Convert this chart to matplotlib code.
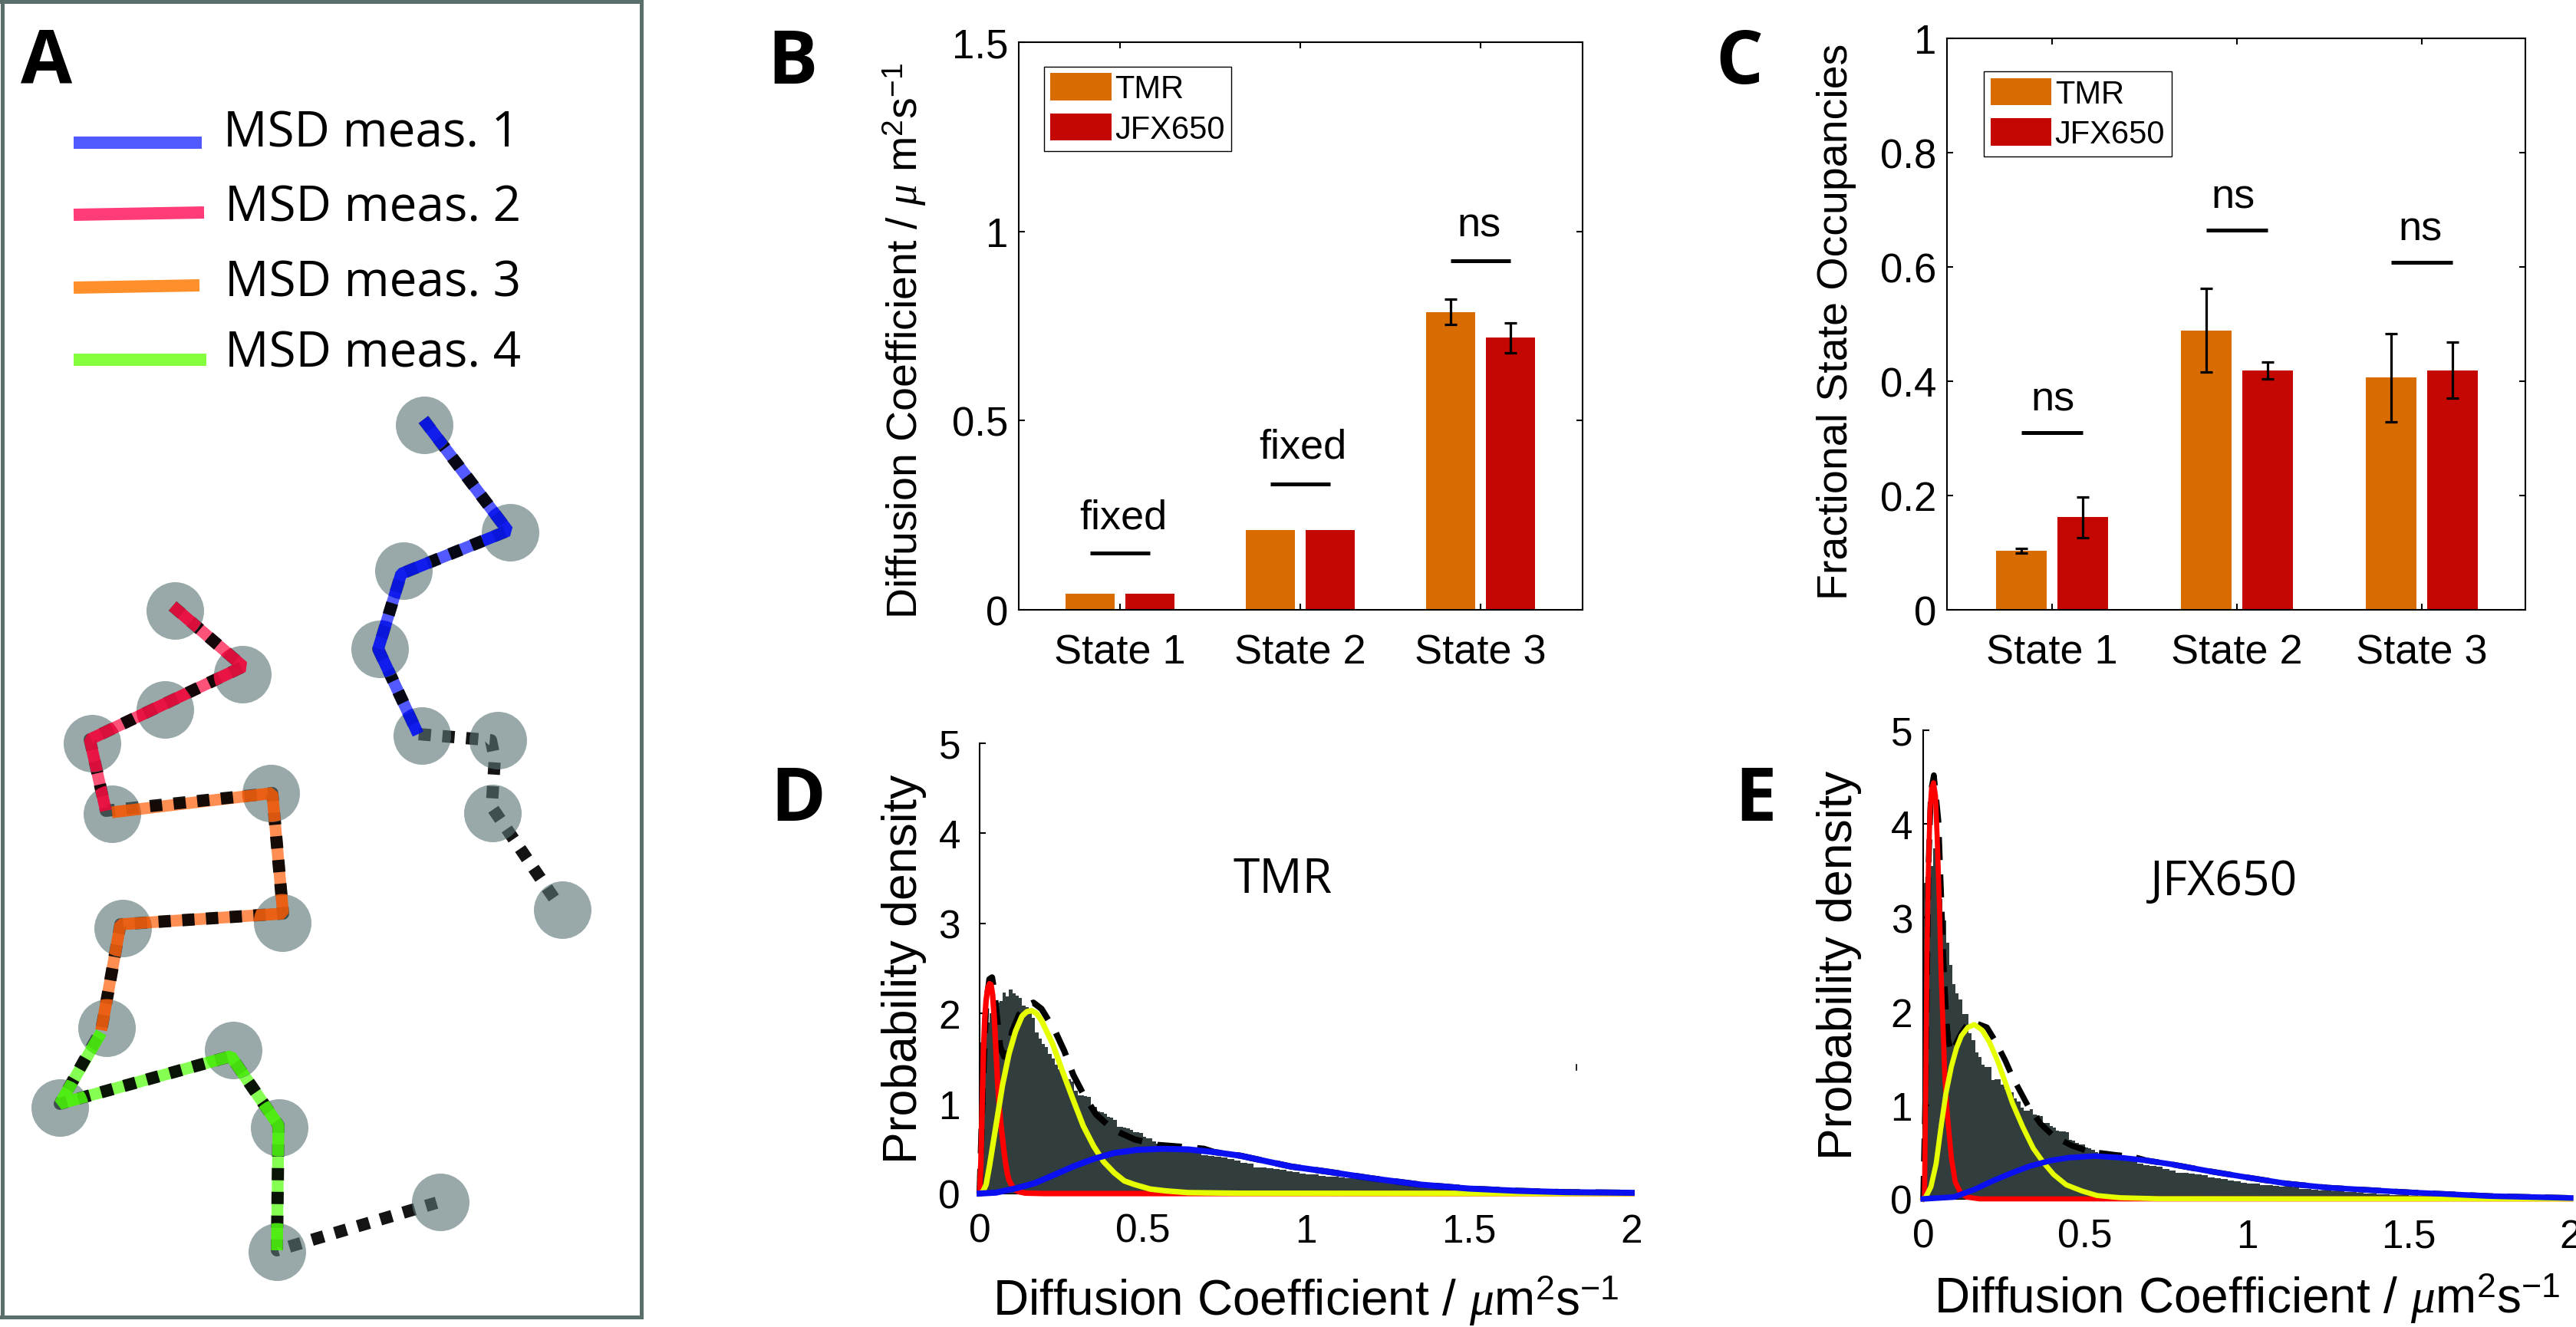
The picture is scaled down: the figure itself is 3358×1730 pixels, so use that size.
from matplotlib import pyplot as plt
from matplotlib.path import Path
import numpy as np

plt.rcParams['font.family'] = ['Liberation Sans', 'DejaVu Sans']
plt.rcParams['mathtext.fontset'] = 'custom'
plt.rcParams['mathtext.rm'] = 'Liberation Sans'
plt.rcParams['mathtext.it'] = 'Liberation Serif:italic'

WIDTH, HEIGHT = 3358, 1731

# panel A, trajectories on the panel's pixel grid
circle_x = [553, 665, 526, 495, 550, 649, 642, 733,
            228, 316, 215, 120, 146, 353, 368, 160, 139, 78, 304, 364, 361, 574]
circle_y = [555, 695, 745, 847, 960, 966, 1061, 1187,
            797, 880, 926, 970, 1062, 1035, 1204, 1211, 1341, 1445, 1370, 1471, 1633, 1568]
track_a_x = [552, 662, 523, 493, 545, 640, 645, 641, 729]
track_a_y = [548, 693, 749, 847, 958, 966, 990, 1053, 1182]
track_b_x = [225, 317, 117, 138, 355, 369, 157, 132, 78, 301, 363, 361, 569]
track_b_y = [791, 870, 965, 1058, 1035, 1192, 1206, 1344, 1440, 1378, 1468, 1631, 1569]
msd_blue_x, msd_blue_y = track_a_x[:5], track_a_y[:5]
msd_red_x, msd_red_y = track_b_x[:4], track_b_y[:4]
msd_orange_x = [146, 355, 369, 157, 132]
msd_orange_y = [1060, 1035, 1192, 1206, 1344]
msd_green_x = [132, 78, 301, 363, 361]
msd_green_y = [1347, 1440, 1378, 1468, 1631]
msd_labels = ["MSD meas. 1", "MSD meas. 2", "MSD meas. 3", "MSD meas. 4"]
msd_legend_x = [[96, 263], [96, 266], [96, 260], [96, 269]]
msd_legend_y = [[187, 187], [281, 278], [376, 373], [470, 470]]
msd_text_x = [291, 293, 293, 293]
msd_text_y = [192, 289, 387, 479]

# panels B and C
states = ["State 1", "State 2", "State 3"]
diff_tmr = [0.042, 0.21, 0.787]
diff_jfx = [0.042, 0.21, 0.719]
diff_tmr_err = [0, 0, 0.033]
diff_jfx_err = [0, 0, 0.04]
diff_notes = ["fixed", "fixed", "ns"]
diff_note_y = [0.216, 0.403, 0.988]
diff_note_x = [1.02, 2.013, 2.99]
diff_line_y = [0.15, 0.333, 0.923]

occ_tmr = [0.104, 0.489, 0.407]
occ_jfx = [0.163, 0.419, 0.419]
occ_tmr_low = [0.099, 0.416, 0.329]
occ_tmr_high = [0.108, 0.562, 0.483]
occ_jfx_low = [0.126, 0.404, 0.370]
occ_jfx_high = [0.197, 0.434, 0.468]
occ_notes = ["ns", "ns", "ns"]
occ_note_y = [0.35, 0.704, 0.648]
occ_note_x = [1.004, 1.98, 2.99]
occ_line_y = [0.31, 0.664, 0.608]

# panel D, 0.01 wide bins up to 0.6 then 0.02 wide bins
hist_edges = np.r_[np.arange(0, 0.6, 0.01), np.arange(0.6, 2.001, 0.02)]
tail_d = [.50, .49, .47, .45, .43, .42, .41, .40, .38, .37, .34, .33, .29, .29, .28, .27, .26, .25,
          .24, .22, .21, .21, .20, .19, .19, .18, .17, .17, .16, .15, .145, .14, .125, .12, .11,
          .105, .095, .09, .085, .08, .07, .065, .06, .055, .05, .045, .04, .04, .035, .03, .03,
          .025, .025, .02, .02, .018, .015, .015, .012, .012, .01, .01, .008, .008, .006, .006,
          .005, .005, .004, .004]
hist_d = [1.68, 1.78, 1.9, 2.0, 2.05, 2.12, 2.14, 2.23, 2.19, 2.27, 2.22, 2.2, 2.17, 2.09, 2.07,
          2.02, 1.95, 1.79, 1.72, 1.66, 1.63, 1.55, 1.5, 1.43, 1.38, 1.33, 1.29, 1.27, 1.24, 1.14,
          1.09, 1.09, 1.08, 1.07, .98, .96, .91, .9, .89, .85, .84, .82, .74, .74, .73, .72, .71,
          .68, .68, .67, .63, .61, .61, .58, .55, .55, .53, .53, .52, .51] + tail_d
red_d_x = [0, .004, .008, .012, .016, .02, .025, .03, .035, .04, .045, .05, .055, .06, .065, .07,
           .075, .08, .085, .09, .1, .11, .12, .14, .2, 2]
red_d_y = [0, .35, 1.0, 1.6, 1.95, 2.15, 2.28, 2.33, 2.32, 2.2, 1.95, 1.6, 1.25, .98, .78, .62,
           .46, .33, .22, .15, .08, .04, .02, .005, 0, 0]
yellow_d_x = [0, .01, .02, .03, .05, .07, .09, .11, .13, .145, .16, .175, .19, .224, .255, .287,
              .318, .35, .38, .413, .444, .475, .523, .57, .64, .8, 2]
yellow_d_y = [0, .02, .1, .3, .75, 1.2, 1.55, 1.8, 1.97, 2.02, 2.03, 2.0, 1.92, 1.66, 1.35, 1.04,
              .75, .525, .355, .23, .14, .10, .05, .03, .01, .003, 0]
blue_d_x = [0, .05, .114, .169, .224, .287, .35, .413, .483, .562, .64, .72, .8, .877, .955,
            1.073, 1.2, 1.35, 1.5, 1.65, 1.8, 2.0]
blue_d_y = [0, .01, .06, .115, .2, .3, .385, .45, .485, .497, .49, .46, .42, .36, .30,
            .24, .17, .10, .055, .03, .015, .008]
total_d_x = [0, .01, .02, .03, .038, .045, .055, .063, .075, .086, .1, .12, .14, .165, .19, .232,
             .26, .287, .32, .357, .409, .476, .546, .617, .688, .72, .8, .877, .955,
             1.073, 1.2, 1.35, 1.5, 1.65, 1.8, 2.0]
total_d_y = [0, 1.2, 2.1, 2.38, 2.4, 2.25, 1.9, 1.63, 1.52, 1.55, 1.8, 1.98, 2.08, 2.12, 2.05,
             1.8, 1.58, 1.32, 1.09, .88, .71, .6, .54, .52, .497, .46, .42, .36, .30,
             .24, .17, .10, .055, .03, .015, .008]

# panel E
tail_e = [.43, .42, .40, .38, .36, .35, .34, .32, .30, .28, .28, .27, .26, .25, .23, .22, .21, .20,
          .19, .17, .16, .16, .15, .15, .14, .13, .13, .12, .11, .11, .10, .09, .09, .08, .08, .07,
          .07, .065, .06, .055, .05, .05, .045, .04, .04, .035, .035, .03, .03, .025, .025, .02,
          .02, .018, .016, .015, .014, .012, .012, .01, .01, .008, .008, .007, .006, .006, .005,
          .005, .004, .004]
hist_e = [3.37, 3.37, 3.55, 3.74, 3.6, 3.2, 2.97, 2.73, 2.5, 2.29, 2.19, 2.13, 1.97, 1.97, 1.77,
          1.69, 1.56, 1.51, 1.43, 1.41, 1.41, 1.27, 1.28, 1.28, 1.22, 1.17, 1.14, 1.14, 1.07, 1.04,
          .97, .94, .94, .96, .9, .89, .88, .81, .81, .78, .76, .73, .72, .72, .71, .63, .62, .6,
          .58, .58, .55, .54, .52, .5, .48, .47, .47, .46, .45, .45] + tail_e
red_e_x = [0, .004, .008, .012, .016, .021, .026, .032, .038, .043, .05, .055, .061, .067, .075,
           .087, .099, .115, .134, .174, 2]
red_e_y = [0, .02, 1.22, 2.68, 3.49, 4.14, 4.38, 4.44, 4.3, 3.88, 3.16, 2.45, 1.87, 1.28, .89,
           .44, .18, .07, .02, 0, 0]
yellow_e_x = [0, .008, .024, .04, .055, .07, .087, .103, .118, .138, .158, .182, .205, .229, .253,
              .276, .308, .34, .371, .403, .442, .49, .537, .608, .727, 2]
yellow_e_y = [0, .02, .13, .376, .765, 1.12, 1.41, 1.61, 1.74, 1.83, 1.86, 1.8, 1.67, 1.48, 1.25,
              1.02, .765, .54, .39, .26, .15, .085, .036, .013, .002, 0]
blue_e_x = [0, .095, .158, .22, .276, .33, .395, .45, .53, .61, .69, .766, .885, 1.0, 1.12, 1.25,
            1.5, 1.75, 2.0]
blue_e_y = [0, .02, .10, .2, .28, .35, .41, .44, .457, .44, .41, .37, .295, .23, .165, .12,
            .07, .03, .01]
total_e_x = [0, .008, .016, .024, .033, .047, .055, .063, .071, .077, .087, .118, .144, .197, .225,
             .253, .276, .324, .363, .403, .458, .513, .592, .648, .69, .766, .885, 1.0, 1.12, 1.25,
             1.5, 1.75, 2.0]
total_e_y = [0, 1.3, 3.5, 4.35, 4.52, 4.04, 3.29, 2.52, 1.96, 1.7, 1.56, 1.77, 1.9, 1.83, 1.67,
             1.48, 1.3, .99, .8, .67, .57, .505, .47, .45, .41, .37, .295, .23, .165, .12,
             .07, .03, .01]

TMR_COLOR = "#d96c00"
JFX_COLOR = "#c40700"
HIST_COLOR = "#323d3d"
FRAME_COLOR = "#5a6e6c"


def px_axes(fig, left, right, top, bottom):
    return fig.add_axes([left / WIDTH, 1 - bottom / HEIGHT,
                         (right - left) / WIDTH, (bottom - top) / HEIGHT])


def bar_panel(ax, tmr, jfx, tmr_err, jfx_err, yticks, yticklabels, ymax, xlim, notes, note_x,
              note_y, line_y, ylabel, ylabel_xy, legend_anchor, label_size):
    pos = np.arange(1, 4)
    ax.bar(pos - 0.166, tmr, 0.272, color=TMR_COLOR, label="TMR")
    ax.bar(pos + 0.166, jfx, 0.272, color=JFX_COLOR, label="JFX650")
    err_style = dict(fmt="none", ecolor="black", elinewidth=2.3, capsize=5.5, capthick=2.3)
    for xs, vals, err in [(pos - 0.166, tmr, tmr_err), (pos + 0.166, jfx, jfx_err)]:
        keep = np.abs(err).sum(axis=0) > 0
        ax.errorbar(xs[keep], np.array(vals)[keep], yerr=err[:, keep], **err_style)
    ax.hlines(line_y, pos - 0.167, pos + 0.167, color="black", lw=3.6)
    for x, y, note in zip(note_x, note_y, notes):
        ax.text(x, y, note, ha="center", va="baseline", fontsize=39)
    ax.set_xlim(*xlim)
    ax.set_ylim(0, ymax)
    ax.set_xticks(pos, states)
    ax.set_yticks(yticks, yticklabels)
    ax.tick_params(axis="x", direction="in", top=True, length=6, width=1.5, labelsize=39, pad=22)
    ax.tick_params(axis="y", direction="in", right=True, length=6, width=1.5, labelsize=38, pad=10)
    for spine in ax.spines.values():
        spine.set_linewidth(1.5)
    ax.set_ylabel(ylabel, fontsize=label_size)
    ax.yaxis.set_label_coords(*ylabel_xy)
    ax.legend(loc="upper left", bbox_to_anchor=legend_anchor, fontsize=30, frameon=True, fancybox=False,
              framealpha=1, edgecolor="black", handlelength=1.9, handleheight=0.93, labelspacing=0.28,
              handletextpad=0.12, borderpad=0.2, borderaxespad=0)


def density_panel(ax, hist, red, yellow, blue, total, title, title_xy, ylabel_x, xlabel_y, pad, lw):
    ax.stairs(hist, hist_edges, fill=True, color=HIST_COLOR, zorder=1)
    ax.plot(total[0], total[1], color="black", lw=lw + 0.6, zorder=2, linestyle=(0, (4, 2.5)),
            clip_on=False, dash_capstyle="butt")
    ax.plot(red[0], red[1], color="#ff0000", lw=lw, zorder=3, clip_on=False)
    ax.plot(yellow[0], yellow[1], color="#e6ff00", lw=lw, zorder=4, clip_on=False)
    ax.plot(blue[0], blue[1], color="#0a10f0", lw=lw + 0.5, zorder=5, clip_on=False)
    ax.set_xlim(0, 2)
    ax.set_ylim(0, 5)
    ax.set_xticks([0, 0.5, 1, 1.5, 2], ["0", "0.5", "1", "1.5", "2"])
    ax.set_yticks([0, 1, 2, 3, 4, 5])
    ax.spines[["top", "right"]].set_visible(False)
    ax.spines["left"].set_linewidth(1.5)
    ax.tick_params(axis="x", length=0, labelsize=37, pad=18)
    ax.tick_params(axis="y", direction="in", length=6, width=1.5, labelsize=37, pad=pad)
    ax.set_ylabel("Probability density", fontsize=45)
    ax.yaxis.set_label_coords(ylabel_x, 0.5)
    ax.set_xlabel(r"Diffusion Coefficient / $\mu$m$^{2}$s$^{-1}$", fontsize=46, va="baseline")
    ax.xaxis.set_label_coords(0.5, xlabel_y)
    ax.text(title_xy[0], title_xy[1], title, ha="center", va="baseline", fontsize=45,
            family="Open Sans")


fig = plt.figure(figsize=(WIDTH / 100, HEIGHT / 100), dpi=100)

# A
ax_a = px_axes(fig, 2.5, 836, 2.5, 1718)
ax_a.set_xlim(2.5, 836)
ax_a.set_ylim(1718, 2.5)
ax_a.set_xticks([])
ax_a.set_yticks([])
for spine in ax_a.spines.values():
    spine.set_linewidth(3.6)
    spine.set_color(FRAME_COLOR)

msd_colors = [(0, 0.04, 1), (1, 0, 0.22), (1, 0.35, 0), (0.29, 1, 0)]
msd_legend_colors = ["#5058ff", "#ff3c78", "#ff8f2b", "#85ff3c"]
paths = [(msd_blue_x, msd_blue_y), (msd_red_x, msd_red_y),
         (msd_orange_x, msd_orange_y), (msd_green_x, msd_green_y)]
for (xs, ys), color in zip(paths, msd_colors):
    ax_a.plot(xs, ys, color=color, alpha=0.68, lw=11, solid_joinstyle="bevel", solid_capstyle="butt", zorder=1)
for xs, ys in [(track_a_x, track_a_y), (track_b_x, track_b_y)]:
    ax_a.plot(xs, ys, color="black", alpha=0.92, lw=11.5, linestyle=(0, (1, 0.94)),
              dash_capstyle="butt", zorder=2)
ax_a.scatter(circle_x, circle_y, s=54 ** 2, color="#5a7373", alpha=0.62, linewidths=0, zorder=3)
# coloured lines stay bright where they cross a spot
spots = Path.make_compound_path(*[Path.circle((x, y), 37.5) for x, y in zip(circle_x, circle_y)])
for (xs, ys), color in zip(paths, msd_colors):
    line, = ax_a.plot(xs, ys, color=color, alpha=0.8, lw=11, solid_joinstyle="bevel",
                      solid_capstyle="butt", zorder=4)
    line.set_clip_path(spots, ax_a.transData)
for i, label in enumerate(msd_labels):
    ax_a.plot(msd_legend_x[i], msd_legend_y[i], color=msd_legend_colors[i], lw=11.5, solid_capstyle="butt")
    ax_a.text(msd_text_x[i], msd_text_y[i], label, fontsize=46, family="Open Sans", va="baseline")

# B
ax_b = px_axes(fig, 1328, 2063, 56, 796)
bar_panel(ax_b, diff_tmr, diff_jfx,
          np.array([diff_tmr_err, diff_tmr_err]), np.array([diff_jfx_err, diff_jfx_err]),
          [0, 0.5, 1, 1.5], ["0", "0.5", "1", "1.5"], 1.5, (0.438, 3.566),
          diff_notes, diff_note_x, diff_note_y, diff_line_y,
          r"Diffusion Coefficient / $\mu$ m$^{2}$s$^{-1}$", (-0.16, 0.475), (0.045, 0.957), 40)

# C
ax_c = px_axes(fig, 2538, 3292, 51, 796)
occ_tmr_err = np.array([np.array(occ_tmr) - occ_tmr_low, np.array(occ_tmr_high) - occ_tmr])
occ_jfx_err = np.array([np.array(occ_jfx) - occ_jfx_low, np.array(occ_jfx_high) - occ_jfx])
bar_panel(ax_c, occ_tmr, occ_jfx, occ_tmr_err, occ_jfx_err,
          [0, 0.2, 0.4, 0.6, 0.8, 1], ["0", "0.2", "0.4", "0.6", "0.8", "1"], 1, (0.432, 3.56),
          occ_notes, occ_note_x, occ_note_y, occ_line_y,
          "Fractional State Occupancies", (-0.156, 0.505), (0.064, 0.942), 40)

# D
ax_d = px_axes(fig, 1277, 2127, 970, 1557)
density_panel(ax_d, hist_d, (red_d_x, red_d_y), (yellow_d_x, yellow_d_y), (blue_d_x, blue_d_y),
              (total_d_x, total_d_y), "TMR", (0.93, 3.35), -0.081, -0.269, 18, 5.2)
ax_d.plot([1.83, 1.83], [1.37, 1.43], color="black", lw=1.2)

# E
ax_e = px_axes(fig, 2507, 3351, 953, 1564)
density_panel(ax_e, hist_e, (red_e_x, red_e_y), (yellow_e_x, yellow_e_y), (blue_e_x, blue_e_y),
              (total_e_x, total_e_y), "JFX650", (0.93, 3.25), -0.095, -0.243, 10, 4.8)

# panel letters
for letter, x, y in [("A", 27, 109), ("B", 1000, 109), ("C", 2236, 109), ("D", 1004, 1070), ("E", 2261, 1070)]:
    fig.text(x / WIDTH, 1 - y / HEIGHT, letter, fontsize=70, fontweight="bold", family="Open Sans",
             va="baseline")

fig.savefig("out.png", dpi=100)
